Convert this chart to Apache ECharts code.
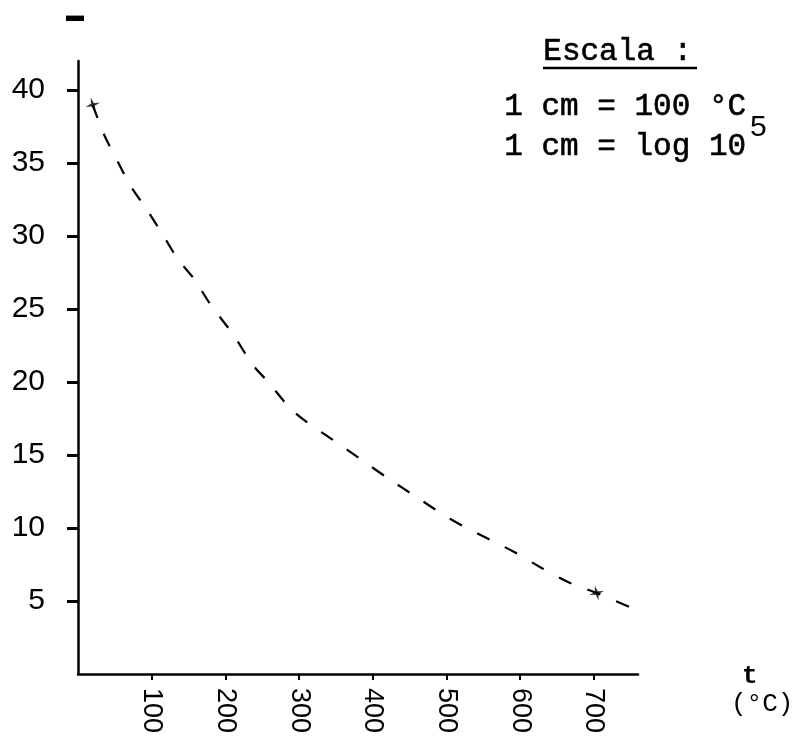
<!DOCTYPE html>
<html>
<head>
<meta charset="utf-8">
<script src="https://cdn.jsdelivr.net/npm/echarts@6/dist/echarts.min.js"></script>
<style>
  html, body { margin: 0; padding: 0; background: #fff; }
  #chart-dom { width: 795px; height: 737px; }
</style>
</head>
<body>
<div id="chart-dom"></div>
<script>
const curveX = [20, 35, 54, 72, 95, 115, 136, 157, 180, 210, 237, 260, 288, 312, 347, 384, 421, 463, 506, 549, 592, 628, 665, 704, 753];
const curveY = [39, 37, 35.1, 33.4, 31.7, 30.1, 28.4, 27.1, 25.3, 23.3, 21.2, 19.9, 18.2, 17.2, 16.0, 14.7, 13.4, 12.0, 10.6, 9.45, 8.36, 7.3, 6.3, 5.55, 4.5];
// puntos medidos (estrellas)
const pointX = [20, 704];
const pointY = [39, 5.55];
const xTicks = [100, 200, 300, 400, 500, 600, 700];
const yTicks = [5, 10, 15, 20, 25, 30, 35, 40];

const myChart = echarts.init(document.getElementById('chart-dom'));
const mono = '"Liberation Mono", "DejaVu Sans Mono", monospace';
const sans = '"Liberation Sans", Arial, sans-serif';
const star = 'path://M0,-10 L2,-2 L10,0 L2,2 L0,10 L-2,2 L-10,0 L-2,-2 Z';

const option = {
  animation: false,
  backgroundColor: '#fff',
  grid: { left: 78, right: 157, top: 61, bottom: 63 },
  xAxis: {
    type: 'value',
    min: 0,
    max: 760,
    splitLine: { show: false },
    axisLine: { lineStyle: { color: '#000', width: 2.5 } },
    axisTick: { customValues: xTicks, length: 6, lineStyle: { color: '#000', width: 2 } },
    axisLabel: {
      customValues: xTicks,
      rotate: -90,
      margin: 14,
      color: '#000',
      fontFamily: sans,
      fontSize: 27
    }
  },
  yAxis: {
    type: 'value',
    min: 0,
    max: 42,
    name: '▬',
    nameGap: 36,
    nameTextStyle: { color: '#000', fontSize: 18, align: 'right', padding: [0, -6, 0, 0] },
    splitLine: { show: false },
    axisLine: { lineStyle: { color: '#000', width: 2.5 } },
    axisTick: { customValues: yTicks, length: 11, lineStyle: { color: '#000', width: 3 } },
    axisLabel: {
      customValues: yTicks,
      margin: 33,
      color: '#000',
      fontFamily: sans,
      fontSize: 30
    }
  },
  series: [
    {
      type: 'line',
      data: curveX.map((x, i) => [x, curveY[i]]),
      smooth: 0.3,
      symbol: 'none',
      lineStyle: { color: '#000', width: 2.2, type: [14, 17] },
      z: 2
    },
    {
      type: 'scatter',
      data: pointX.map((x, i) => [x, pointY[i]]),
      symbol: star,
      symbolSize: 15,
      symbolRotate: 15,
      itemStyle: { color: '#000' },
      z: 3
    }
  ],
  graphic: [
    { type: 'text', left: 543, top: 36, style: { text: 'Escala :', font: '31px ' + mono, fill: '#000', stroke: '#000', lineWidth: 0.6 } },
    { type: 'line', shape: { x1: 543, y1: 68, x2: 697, y2: 68 }, style: { stroke: '#000', lineWidth: 2.5 } },
    { type: 'text', left: 504, top: 91, style: { text: '1 cm = 100 °C', font: '31px ' + mono, fill: '#000', stroke: '#000', lineWidth: 0.6 } },
    { type: 'text', left: 504, top: 131, style: { text: '1 cm = log 10', font: '31px ' + mono, fill: '#000', stroke: '#000', lineWidth: 0.6 } },
    { type: 'text', left: 750, top: 113, style: { text: '5', font: '30px ' + sans, fill: '#000' } },
    { type: 'text', left: 742, top: 663, style: { text: 't', font: 'bold 26px ' + mono, fill: '#000' } },
    { type: 'text', left: 731, top: 691, style: { text: '(°C)', font: '26px ' + mono, fill: '#000' } }
  ]
};
myChart.setOption(option, true);
</script>
</body>
</html>
